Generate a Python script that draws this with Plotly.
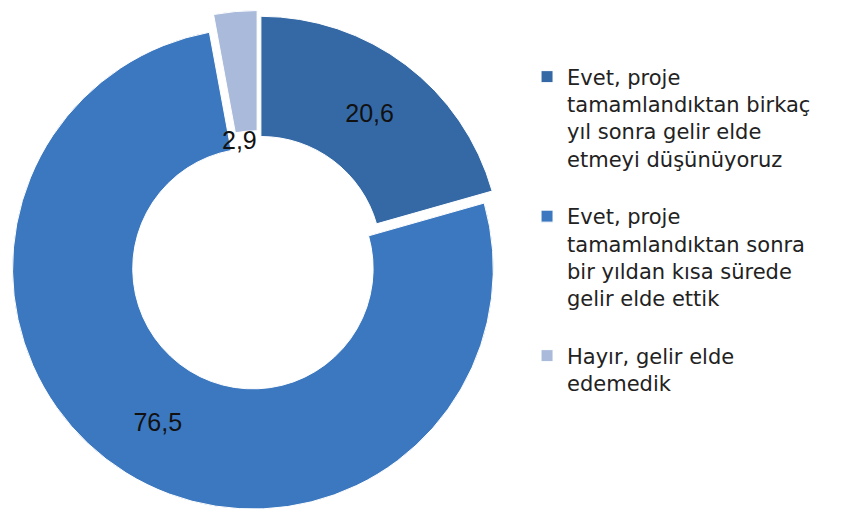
import plotly.graph_objects as go

categories = [
    "Evet, proje<br>tamamlandıktan birkaç<br>yıl sonra gelir elde<br>etmeyi düşünüyoruz",
    "Evet, proje<br>tamamlandıktan sonra<br>bir yıldan kısa sürede<br>gelir elde ettik",
    "Hayır, gelir elde<br>edemedik",
]
values = [20.6, 76.5, 2.9]
value_labels = ["20,6", "76,5", "2,9"]
colors = ["#3469A6", "#3C78C0", "#A9BADB"]
pulls = [0.02, 0.04, 0.04]

legend_names = [c + "<br> " for c in categories]

fig = go.Figure()
fig.add_trace(go.Pie(
    labels=legend_names,
    values=values,
    text=value_labels,
    texttemplate=["%{text}", "%{text}", ""],
    textposition="inside",
    insidetextorientation="horizontal",
    textfont=dict(family="Liberation Sans, Arial", size=25, color="#111111"),
    hole=0.5,
    sort=False,
    direction="clockwise",
    rotation=0,
    pull=pulls,
    marker=dict(colors=colors, line=dict(color="#ffffff", width=1)),
    domain=dict(x=[0, 0.5988], y=[0, 1]),
    hoverinfo="label+percent",
))

# label for the small slice, placed in the hole just below it
fig.add_annotation(
    x=0.2778, y=0.7386, xref="paper", yref="paper",
    xanchor="center", yanchor="middle",
    text=value_labels[2], showarrow=False,
    font=dict(family="Liberation Sans, Arial", size=25, color="#111111"),
)

fig.update_layout(
    width=835, height=505,
    margin=dict(l=0, r=0, t=0, b=0),
    paper_bgcolor="white",
    plot_bgcolor="white",
    showlegend=True,
    legend=dict(
        x=0.6216, y=0.904, xanchor="left", yanchor="top",
        font=dict(family="DejaVu Sans", size=21, color="#222222"),
        valign="top",
        itemwidth=30,
        bgcolor="rgba(0,0,0,0)",
    ),
)

fig.write_html("out.html")
